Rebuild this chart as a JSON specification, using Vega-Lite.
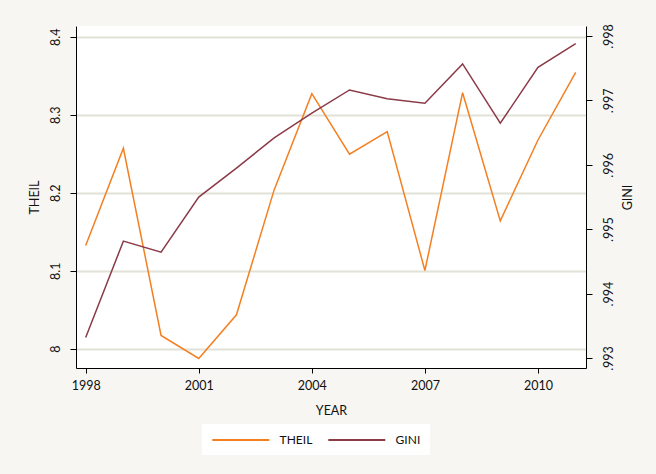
{
  "$schema": "https://vega.github.io/schema/vega-lite/v6.json",
  "autosize": "none",
  "width": 510,
  "height": 342,
  "padding": {"left": 76, "top": 26, "right": 70, "bottom": 106},
  "background": "#f7f6f2",
  "config": {
    "font": "Lato",
    "view": {"fill": "white", "stroke": null},
    "axis": {
      "domainColor": "black",
      "tickColor": "black",
      "labelColor": "#111",
      "titleColor": "#111",
      "labelFontSize": 12.5,
      "titleFontSize": 12.5,
      "titleFontWeight": "normal",
      "labelFont": "Lato",
      "titleFont": "Lato"
    }
  },
  "data": {
    "values": [
      {"YEAR": 1998, "THEIL": 8.1323, "GINI": 0.99332},
      {"YEAR": 1999, "THEIL": 8.2570, "GINI": 0.994815},
      {"YEAR": 2000, "THEIL": 8.0170, "GINI": 0.994644},
      {"YEAR": 2001, "THEIL": 7.9876, "GINI": 0.995498},
      {"YEAR": 2002, "THEIL": 8.0435, "GINI": 0.995948},
      {"YEAR": 2003, "THEIL": 8.2036, "GINI": 0.996418},
      {"YEAR": 2004, "THEIL": 8.3269, "GINI": 0.996801},
      {"YEAR": 2005, "THEIL": 8.2493, "GINI": 0.997162},
      {"YEAR": 2006, "THEIL": 8.2783, "GINI": 0.997027},
      {"YEAR": 2007, "THEIL": 8.1003, "GINI": 0.996956},
      {"YEAR": 2008, "THEIL": 8.3282, "GINI": 0.997566},
      {"YEAR": 2009, "THEIL": 8.1639, "GINI": 0.996646},
      {"YEAR": 2010, "THEIL": 8.2676, "GINI": 0.997514},
      {"YEAR": 2011, "THEIL": 8.3543, "GINI": 0.997881}
    ]
  },
  "encoding": {
    "x": {
      "field": "YEAR",
      "type": "quantitative",
      "scale": {"domain": [1997.743, 2011.274], "nice": false, "zero": false},
      "axis": {
        "title": "YEAR",
        "values": [1998, 2001, 2004, 2007, 2010],
        "format": "d",
        "grid": false,
        "tickSize": 5,
        "labelPadding": 6,
        "titlePadding": 13
      }
    }
  },
  "layer": [
    {
      "mark": {"type": "line", "strokeWidth": 1.5},
      "encoding": {
        "y": {
          "field": "THEIL",
          "type": "quantitative",
          "scale": {"domain": [7.9753, 8.4137], "nice": false, "zero": false},
          "axis": {
            "title": "THEIL",
            "orient": "left",
            "values": [8, 8.1, 8.2, 8.3, 8.4],
            "format": ".1~f",
            "labelAngle": -90,
            "labelAlign": "center",
            "labelBaseline": "bottom",
            "tickSize": 6,
            "labelPadding": 8,
            "titlePadding": 8,
            "grid": true,
            "gridColor": "#e2e2d8",
            "gridWidth": 2
          }
        },
        "color": {
          "datum": "THEIL",
          "type": "nominal",
          "scale": {"domain": ["THEIL", "GINI"], "range": ["#f47f20", "#8b3a48"]},
          "legend": {
            "title": null,
            "orient": "none",
            "legendX": 126,
            "legendY": 398,
            "direction": "horizontal",
            "fillColor": "white",
            "padding": 9,
            "symbolType": "M-1,0H9",
            "symbolSize": 130,
            "symbolStrokeWidth": 2,
            "symbolFillColor": "transparent",
            "labelFontSize": 12,
            "labelFont": "Lato",
            "labelColor": "#111",
            "labelOffset": 54.6,
            "columnPadding": 11
          }
        }
      }
    },
    {
      "mark": {"type": "line", "strokeWidth": 1.5},
      "encoding": {
        "y": {
          "field": "GINI",
          "type": "quantitative",
          "scale": {"domain": [0.992845, 0.998155], "nice": false, "zero": false},
          "axis": {
            "title": "GINI",
            "orient": "right",
            "values": [0.993, 0.994, 0.995, 0.996, 0.997, 0.998],
            "labelExpr": "replace(format(datum.value, '.3f'), '0.', '.')",
            "labelAngle": -90,
            "labelAlign": "center",
            "labelBaseline": "top",
            "titleAngle": 270,
            "tickSize": 6,
            "labelPadding": 10,
            "titlePadding": 20,
            "grid": false
          }
        },
        "color": {"datum": "GINI", "type": "nominal"}
      }
    }
  ],
  "resolve": {"scale": {"y": "independent"}}
}
